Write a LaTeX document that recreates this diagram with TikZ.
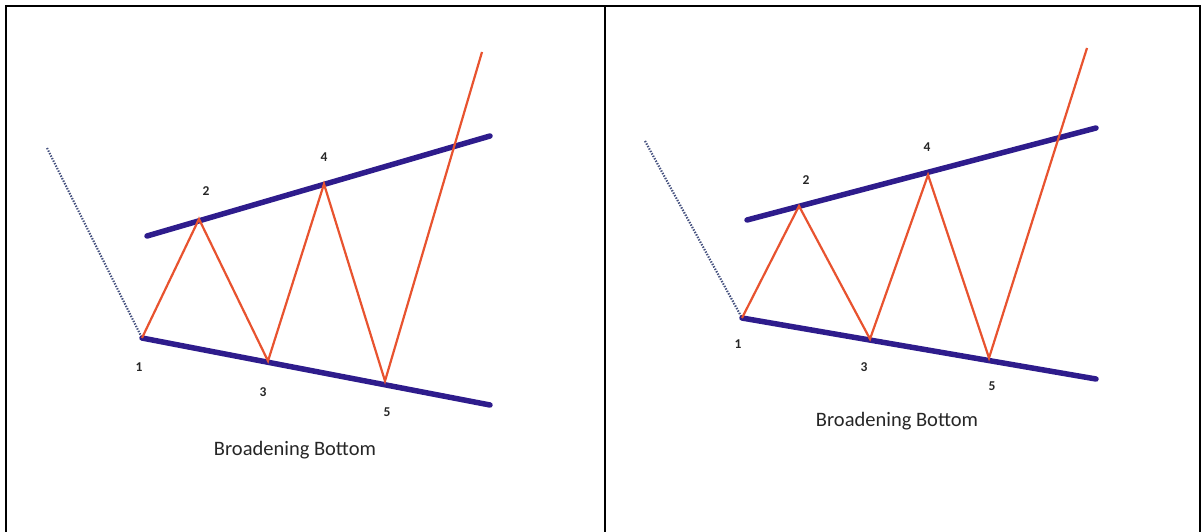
\documentclass[tikz,border=0pt]{standalone}
\usepackage{fontspec}
\setmainfont{Carlito}
\usetikzlibrary{positioning}

\definecolor{trendblue}{HTML}{2E1C8C}
\definecolor{pricered}{HTML}{E8532F}
\definecolor{dotgray}{HTML}{44507E}

\begin{document}
\begin{tikzpicture}[
    x=1pt, y=-1pt,
    trend/.style={draw=trendblue, line width=5.5pt, line cap=round},
    price/.style={draw=pricered, line width=2.2pt, line join=miter},
    lead/.style={draw=dotgray, line width=2.2pt, dash pattern=on 1.4pt off 1.4pt},
    num/.style={font=\bfseries\fontsize{13.5}{13.5}\selectfont, text=black!85, inner sep=0pt},
    caption/.style={font=\fontsize{20.5}{20.5}\selectfont, text=black!85, inner sep=0pt},
    frame/.style={draw=black, line width=1.8pt},
]
\useasboundingbox (0,0) rectangle (1202,532);

% Frame
\draw[frame] (6,532) -- (6,6) -- (1200,6) -- (1200,532);
\draw[frame] (605,6) -- (605,532);

% Left panel: turning points
\coordinate (a0) at (47,148);
\coordinate (a1) at (142,338);
\coordinate (a2) at (199,219);
\coordinate (a3) at (268,361);
\coordinate (a4) at (324,184);
\coordinate (a5) at (385,381);
\coordinate (a6) at (482,52);
\coordinate (aup1) at (147,236);
\coordinate (aup2) at (490,136);
\coordinate (alo2) at (490,405);

% Left panel: trend lines and price path
\draw[lead] (a0) -- (a1);
\draw[trend] (aup1) -- (aup2);
\draw[trend] (a1) -- (alo2);
\draw[price] (a1) -- (a2) -- (a3) -- (a4) -- (a5) -- (a6);

% Left panel: labels
\node[num] (la1) at (139,367) {1};
\node[num] (la2) at (206,191) {2};
\node[num] (la3) at (263,392) {3};
\node[num] (la4) at (324,157) {4};
\node[num] (la5) at (387,412) {5};
\node[caption] (capa) at (295,450) {Broadening Bottom};

% Right panel: turning points
\coordinate (b0) at (645,141);
\coordinate (b1) at (742,318);
\coordinate (b2) at (799,206);
\coordinate (b3) at (870,339);
\coordinate (b4) at (928,175);
\coordinate (b5) at (989,358);
\coordinate (b6) at (1087,48);
\coordinate (bup1) at (747,220);
\coordinate (bup2) at (1096,128);
\coordinate (blo2) at (1096,379);

% Right panel: trend lines and price path
\draw[lead] (b0) -- (b1);
\draw[trend] (bup1) -- (bup2);
\draw[trend] (b1) -- (blo2);
\draw[price] (b1) -- (b2) -- (b3) -- (b4) -- (b5) -- (b6);

% Right panel: labels
\node[num] (lb1) at (738,344) {1};
\node[num] (lb2) at (806,180) {2};
\node[num] (lb3) at (864,367) {3};
\node[num] (lb4) at (927,147) {4};
\node[num] (lb5) at (992,386) {5};
\node[caption] (capb) at (897,421) {Broadening Bottom};

\end{tikzpicture}
\end{document}
